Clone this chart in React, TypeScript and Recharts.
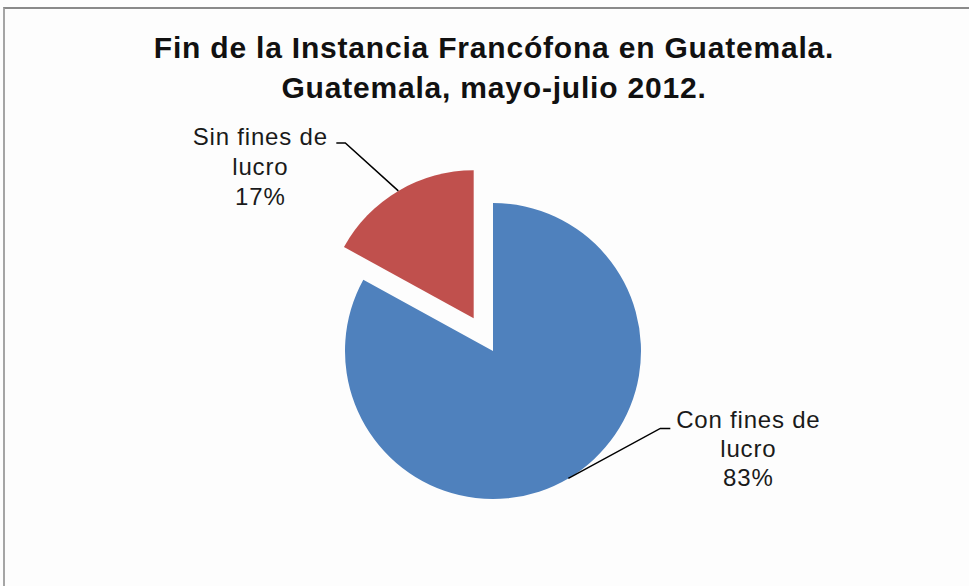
import { PieChart, Pie, Cell } from 'recharts';

// Fin de la Instancia Francófona en Guatemala, mayo-julio 2012
const CATEGORIES = ['Con fines de lucro', 'Sin fines de lucro'];
const VALUES = [83, 17];
const LABEL_LINES = [
  ['Con fines de', 'lucro'],
  ['Sin fines de', 'lucro'],
];

const COLORS = ['#4F81BD', '#C0504D'];
const FONT = '"Liberation Sans", Arial, sans-serif';

const data = CATEGORIES.map((name, i) => ({ name, value: VALUES[i] }));

const CX = 493;
const CY = 351;
const R = 148;
const EXPLODE = 38;
const RADIAN = Math.PI / 180;

// exploded slice (index 1) is shifted along its mid angle
const total = VALUES.reduce((a, b) => a + b, 0);
const explodedMid = 90 - (360 * (VALUES[0] + VALUES[1] / 2)) / total;
const CX2 = CX + EXPLODE * Math.cos(explodedMid * RADIAN);
const CY2 = CY - EXPLODE * Math.sin(explodedMid * RADIAN);

// leader line layout per slice: elbow, end of line, text centre (relative to arc midpoint)
const LEADERS = [
  { elbow: [92, -50], end: [102, -50], text: [180, -50], gap: 29 },
  { elbow: [-53, -48], end: [-62, -48], text: [-138, -46], gap: 30 },
];

function makeLabel(only: number) {
  return (props: any) => {
    const { cx, cy, midAngle, outerRadius, index, percent } = props;
    if (index !== only) return null;
    const sx = cx + outerRadius * Math.cos(-midAngle * RADIAN);
    const sy = cy + outerRadius * Math.sin(-midAngle * RADIAN);
    const l = LEADERS[index];
    const lines = [...LABEL_LINES[index], `${Math.round(percent * 100)}%`];
    return (
      <g>
        <polyline
          points={`${sx},${sy} ${sx + l.elbow[0]},${sy + l.elbow[1]} ${sx + l.end[0]},${sy + l.end[1]}`}
          fill="none"
          stroke="#000"
          strokeWidth={1.5}
        />
        <text
          x={sx + l.text[0]}
          y={sy + l.text[1]}
          textAnchor="middle"
          fill="#1a1a1a"
          fontFamily={FONT}
          fontSize={24}
          letterSpacing={0.8}
        >
          {lines.map((t, i) => (
            <tspan key={i} x={sx + l.text[0]} dy={i === 0 ? 0 : l.gap}>
              {t}
            </tspan>
          ))}
        </text>
      </g>
    );
  };
}

export default function App() {
  return (
    <div
      style={{
        position: 'absolute',
        left: 0,
        top: 0,
        width: 969,
        height: 586,
        background: '#fdfdfd',
        overflow: 'hidden',
      }}
    >
      <div
        style={{
          position: 'absolute',
          left: 3,
          top: 7,
          width: 1000,
          height: 600,
          borderTop: '2px solid #8a8a8a',
          borderLeft: '2px solid #a5a5a5',
        }}
      />
      <div
        style={{
          position: 'absolute',
          left: 0,
          top: 28,
          width: 988,
          textAlign: 'center',
          fontFamily: FONT,
          fontWeight: 'bold',
          fontSize: 30,
          lineHeight: '40px',
          color: '#111',
          letterSpacing: 0.8,
        }}
      >
        Fin de la Instancia Francófona en Guatemala.
        <br />
        Guatemala, mayo-julio 2012.
      </div>
      <div style={{ position: 'absolute', left: 0, top: 0 }}>
        <PieChart width={969} height={586} margin={{ top: 0, right: 0, bottom: 0, left: 0 }}>
          <Pie
            data={data}
            dataKey="value"
            nameKey="name"
            cx={CX}
            cy={CY}
            outerRadius={R}
            startAngle={90}
            endAngle={-270}
            stroke="none"
            isAnimationActive={false}
            labelLine={false}
            label={makeLabel(0)}
          >
            {data.map((d, i) => (
              <Cell key={d.name} fill={i === 0 ? COLORS[0] : 'none'} />
            ))}
          </Pie>
          <Pie
            data={data}
            dataKey="value"
            nameKey="name"
            cx={CX2}
            cy={CY2}
            outerRadius={R}
            startAngle={90}
            endAngle={-270}
            stroke="none"
            isAnimationActive={false}
            labelLine={false}
            label={makeLabel(1)}
          >
            {data.map((d, i) => (
              <Cell key={d.name} fill={i === 1 ? COLORS[1] : 'none'} />
            ))}
          </Pie>
        </PieChart>
      </div>
    </div>
  );
}
